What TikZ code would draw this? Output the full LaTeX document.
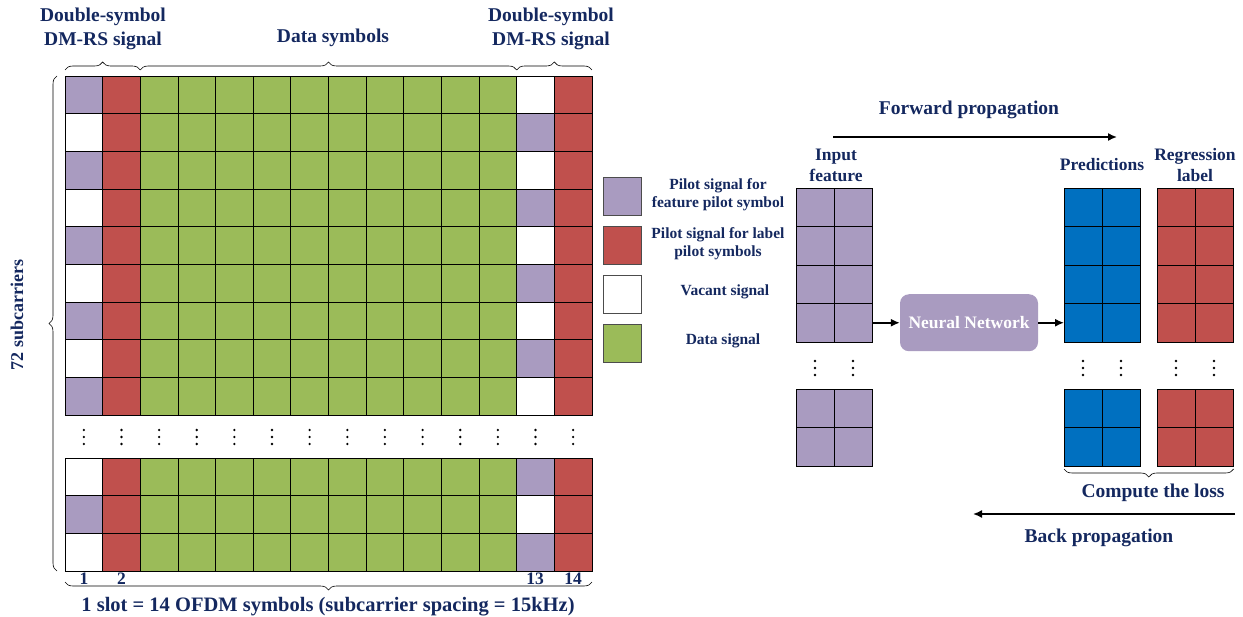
\documentclass[tikz,border=0pt]{standalone}
\usepackage{fontspec}
\setmainfont{Liberation Serif}
\usetikzlibrary{arrows.meta,decorations.pathreplacing,positioning}
\definecolor{featc}{HTML}{A99BC0}
\definecolor{labc}{HTML}{C0504D}
\definecolor{datac}{HTML}{9BBB59}
\definecolor{predc}{HTML}{0070C0}
\definecolor{txtc}{HTML}{14285F}
\newcommand{\cw}{37.64}
\newcommand{\ch}{37.67}
\tikzset{
	vdot/.pic={\fill (0,-7) circle (1.3); \fill (0,0) circle (1.3); \fill (0,7) circle (1.3);}
}

\begin{document}
\begin{tikzpicture}[x=1pt, y=-1pt,
		cell/.style={draw=black, line width=0.7pt, minimum width=37.64pt, minimum height=37.67pt, inner sep=0pt, outer sep=0pt},
		small/.style={cell, minimum width=38.3pt, minimum height=38.5pt},
		lbl/.style={text=txtc, font=\fontsize{19.5}{24}\selectfont\bfseries, align=center},
		mid/.style={text=txtc, font=\fontsize{17.5}{21}\selectfont\bfseries, align=center},
		leg/.style={text=txtc, font=\fontsize{15.5}{18.5}\selectfont\bfseries, align=center},
		brc/.style={decorate, decoration={brace, amplitude=8pt}, line width=0.6pt},
		arr/.style={-{Latex[length=9pt, width=8pt]}, line width=1.6pt}]
	\useasboundingbox (0,0) rectangle (1243,617);
	% resource grid, first 9 subcarriers
	\foreach \r/\ca/\cb in {1/featc/white, 2/white/featc, 3/featc/white, 4/white/featc, 5/featc/white, 6/white/featc, 7/featc/white, 8/white/featc, 9/featc/white} {
		\node[cell, fill=\ca] (g-\r-1) at ({65+0.5*\cw}, {76+(\r-0.5)*\ch}) {};
		\node[cell, fill=labc] (g-\r-2) at ({65+1.5*\cw}, {76+(\r-0.5)*\ch}) {};
		\foreach \c in {3,...,12}
			\node[cell, fill=datac] (g-\r-\c) at ({65+(\c-0.5)*\cw}, {76+(\r-0.5)*\ch}) {};
		\node[cell, fill=\cb] (g-\r-13) at ({65+12.5*\cw}, {76+(\r-0.5)*\ch}) {};
		\node[cell, fill=labc] (g-\r-14) at ({65+13.5*\cw}, {76+(\r-0.5)*\ch}) {};
	}
	% last 3 subcarriers
	\foreach \r/\ca/\cb in {1/white/featc, 2/featc/white, 3/white/featc} {
		\node[cell, fill=\ca] (b-\r-1) at ({65+0.5*\cw}, {458+(\r-0.5)*\ch}) {};
		\node[cell, fill=labc] (b-\r-2) at ({65+1.5*\cw}, {458+(\r-0.5)*\ch}) {};
		\foreach \c in {3,...,12}
			\node[cell, fill=datac] (b-\r-\c) at ({65+(\c-0.5)*\cw}, {458+(\r-0.5)*\ch}) {};
		\node[cell, fill=\cb] (b-\r-13) at ({65+12.5*\cw}, {458+(\r-0.5)*\ch}) {};
		\node[cell, fill=labc] (b-\r-14) at ({65+13.5*\cw}, {458+(\r-0.5)*\ch}) {};
	}
	\foreach \c in {1,...,14}
		\pic at ({65+(\c-0.5)*\cw}, 437) {vdot};
	% braces and labels
	\draw[brc] ([yshift=6pt]g-1-1.north west) -- ([yshift=6pt]g-1-2.north east);
	\draw[brc] ([yshift=6pt]g-1-3.north west) -- ([yshift=6pt]g-1-12.north east);
	\draw[brc] ([yshift=6pt]g-1-13.north west) -- ([yshift=6pt]g-1-14.north east);
	\node[lbl] (dm-l) at (103,29) {Double-symbol\\DM-RS signal};
	\node[lbl] (data) at (333,38) {Data symbols};
	\node[lbl] (dm-r) at (551,29) {Double-symbol\\DM-RS signal};
	\draw[brc] ([xshift=-8pt]b-3-1.south west) -- ([xshift=-8pt]g-1-1.north west);
	\node[lbl, rotate=90, font=\fontsize{18}{21}\selectfont\bfseries] (sc) at (17,315) {72 subcarriers};
	\node[mid] (n1) at (84,579) {1};
	\node[mid] (n2) at (121.5,579) {2};
	\node[mid] (n13) at (535,579) {13};
	\node[mid] (n14) at (573,579) {14};
	\draw[brc] ([yshift=-11pt]b-3-14.south east) -- ([yshift=-11pt]b-3-1.south west);
	\node[lbl, font=\fontsize{20.5}{24}\selectfont\bfseries] (slot) at (328,607) {1 slot = 14 OFDM symbols (subcarrier spacing = 15kHz)};
	% legend
	\foreach \i/\col in {1/featc, 2/labc, 3/white, 4/datac}
		\node[cell, draw=black!70, minimum width=38pt, minimum height=38pt, fill=\col] (leg-\i) at (622.5, {196+(\i-1)*49}) {};
	\node[leg] (lt-1) at (718,194.5) {Pilot signal for\\feature pilot symbol};
	\node[leg] (lt-2) at (718,243.5) {Pilot signal for label\\pilot symbols};
	\node[leg] (lt-3) at (725,292) {Vacant signal};
	\node[leg] (lt-4) at (723,341) {Data signal};
	% training part
	\foreach \nm/\xo/\col in {in/796/featc, pr/1064/predc, rl/1157/labc} {
		\foreach \r in {1,...,4}
			\foreach \c in {1,2}
				\node[small, fill=\col] (\nm-\r-\c) at ({\xo+(\c-0.5)*38.3}, {188+(\r-0.5)*38.5}) {};
		\foreach \r in {1,2}
			\foreach \c in {1,2}
				\node[small, fill=\col] (\nm-b\r-\c) at ({\xo+(\c-0.5)*38.3}, {389+(\r-0.5)*38.5}) {};
		\pic at ({\xo+19}, 368) {vdot};
		\pic at ({\xo+57}, 368) {vdot};
	}
	\node[mid] (inlbl) at (836,165) {Input\\feature};
	\node[mid] (prlbl) at (1102,165) {Predictions};
	\node[mid] (rllbl) at (1195,165) {Regression\\label};
	\node[rounded corners=9pt, fill=featc, minimum width=138pt, minimum height=57pt, text=white, font=\fontsize{17.5}{21}\selectfont\bfseries] (nn) at (969,322.75) {Neural Network};
	\draw[arr] (in-4-2.east) -- (nn);
	\draw[arr] (nn) -- (pr-4-1.west);
	\coordinate (fw-s) at (833,137);
	\coordinate (fw-e) at (1117,137);
	\draw[arr] (fw-s) -- (fw-e);
	\node[lbl] (fw) at (969,110) {Forward propagation};
	\draw[brc] ([yshift=-3pt]rl-b2-2.south east) -- ([yshift=-3pt]pr-b2-1.south west);
	\node[lbl] (loss) at (1153,493) {Compute the loss};
	\coordinate (bp-s) at (1235,514);
	\coordinate (bp-e) at (973,514);
	\draw[arr] (bp-s) -- (bp-e);
	\node[lbl] (bp) at (1099,538) {Back propagation};
\end{tikzpicture}
\end{document}
